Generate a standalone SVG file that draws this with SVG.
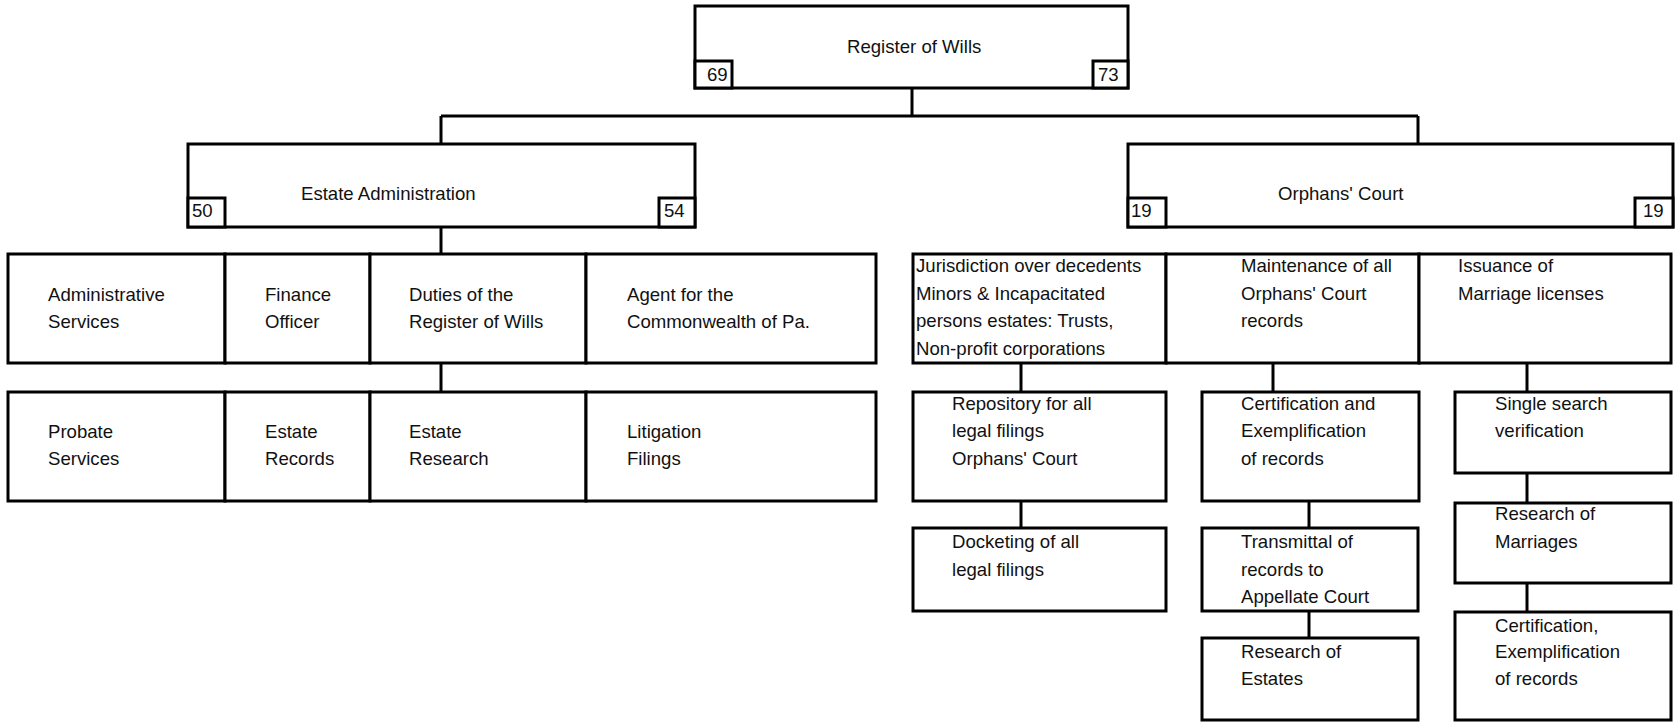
<svg xmlns="http://www.w3.org/2000/svg" width="1675" height="722" viewBox="0 0 1675 722">
<style>
rect{fill:#fff;stroke:#000;stroke-width:3}
.c line{stroke:#000;stroke-width:3}
text{font-family:"Liberation Sans",Arial,sans-serif;font-size:18.6px;fill:#111}
</style>
<rect x="0" y="0" width="1675" height="722" style="stroke:none"/>
<g class="c" id="connectors">
<line x1="912" y1="88" x2="912" y2="116"/>
<line x1="441" y1="116" x2="1418" y2="116"/>
<line x1="441" y1="116" x2="441" y2="144"/>
<line x1="1418" y1="116" x2="1418" y2="144"/>
<line x1="441" y1="227" x2="441" y2="254"/>
<line x1="441" y1="363" x2="441" y2="392"/>
<line x1="1021" y1="363" x2="1021" y2="392"/>
<line x1="1021" y1="501" x2="1021" y2="528"/>
<line x1="1273" y1="363" x2="1273" y2="392"/>
<line x1="1309" y1="501" x2="1309" y2="528"/>
<line x1="1309" y1="611" x2="1309" y2="638"/>
<line x1="1527" y1="363" x2="1527" y2="392"/>
<line x1="1527" y1="473" x2="1527" y2="503"/>
<line x1="1527" y1="583" x2="1527" y2="612"/>
</g>
<g id="register">
<rect x="695" y="6" width="433" height="82"/>
<text x="847" y="53">Register of Wills</text>
<rect x="695" y="61" width="37" height="27"/>
<text x="707" y="81">69</text>
<rect x="1093" y="61" width="35" height="27"/>
<text x="1098" y="81">73</text>
</g>
<g id="estate-admin">
<rect x="188" y="144" width="507" height="83"/>
<text x="301" y="200">Estate Administration</text>
<rect x="188" y="198" width="37" height="29"/>
<text x="192" y="217">50</text>
<rect x="659" y="198" width="36" height="29"/>
<text x="664" y="217">54</text>
</g>
<g id="orphans-court">
<rect x="1128" y="144" width="545" height="83"/>
<text x="1278" y="200">Orphans' Court</text>
<rect x="1128" y="198" width="38" height="29"/>
<text x="1131" y="217">19</text>
<rect x="1635" y="198" width="38" height="29"/>
<text x="1643" y="217">19</text>
</g>
<g id="admin-services"><rect x="8" y="254" width="217" height="109"/><text x="48" y="301">Administrative</text><text x="48" y="328">Services</text></g>
<g id="finance-officer"><rect x="225" y="254" width="145" height="109"/><text x="265" y="301">Finance</text><text x="265" y="328">Officer</text></g>
<g id="duties"><rect x="370" y="254" width="216" height="109"/><text x="409" y="301">Duties of the</text><text x="409" y="328">Register of Wills</text></g>
<g id="agent"><rect x="586" y="254" width="290" height="109"/><text x="627" y="301">Agent for the</text><text x="627" y="328">Commonwealth of Pa.</text></g>
<g id="probate"><rect x="8" y="392" width="217" height="109"/><text x="48" y="438">Probate</text><text x="48" y="465">Services</text></g>
<g id="estate-records"><rect x="225" y="392" width="145" height="109"/><text x="265" y="438">Estate</text><text x="265" y="465">Records</text></g>
<g id="estate-research"><rect x="370" y="392" width="216" height="109"/><text x="409" y="438">Estate</text><text x="409" y="465">Research</text></g>
<g id="litigation"><rect x="586" y="392" width="290" height="109"/><text x="627" y="438">Litigation</text><text x="627" y="465">Filings</text></g>
<g id="jurisdiction"><rect x="913" y="254" width="253" height="109"/><text x="916" y="272">Jurisdiction over decedents</text><text x="916" y="300">Minors &amp; Incapacitated</text><text x="916" y="327">persons estates: Trusts,</text><text x="916" y="355">Non-profit corporations</text></g>
<g id="maintenance"><rect x="1166" y="254" width="253" height="109"/><text x="1241" y="272">Maintenance of all</text><text x="1241" y="300">Orphans' Court</text><text x="1241" y="327">records</text></g>
<g id="issuance"><rect x="1419" y="254" width="252" height="109"/><text x="1458" y="272">Issuance of</text><text x="1458" y="300">Marriage licenses</text></g>
<g id="repository"><rect x="913" y="392" width="253" height="109"/><text x="952" y="410">Repository for all</text><text x="952" y="437">legal filings</text><text x="952" y="465">Orphans' Court</text></g>
<g id="docketing"><rect x="913" y="528" width="253" height="83"/><text x="952" y="548">Docketing of all</text><text x="952" y="576">legal filings</text></g>
<g id="certification-exemplification"><rect x="1202" y="392" width="217" height="109"/><text x="1241" y="410">Certification and</text><text x="1241" y="437">Exemplification</text><text x="1241" y="465">of records</text></g>
<g id="transmittal"><rect x="1202" y="528" width="216" height="83"/><text x="1241" y="548">Transmittal of</text><text x="1241" y="576">records to</text><text x="1241" y="603">Appellate Court</text></g>
<g id="research-estates"><rect x="1202" y="638" width="216" height="82"/><text x="1241" y="658">Research of</text><text x="1241" y="685">Estates</text></g>
<g id="single-search"><rect x="1455" y="392" width="216" height="81"/><text x="1495" y="410">Single search</text><text x="1495" y="437">verification</text></g>
<g id="research-marriages"><rect x="1455" y="503" width="216" height="80"/><text x="1495" y="520">Research of</text><text x="1495" y="548">Marriages</text></g>
<g id="certification-records"><rect x="1455" y="612" width="216" height="108"/><text x="1495" y="632">Certification,</text><text x="1495" y="658">Exemplification</text><text x="1495" y="685">of records</text></g>
</svg>
